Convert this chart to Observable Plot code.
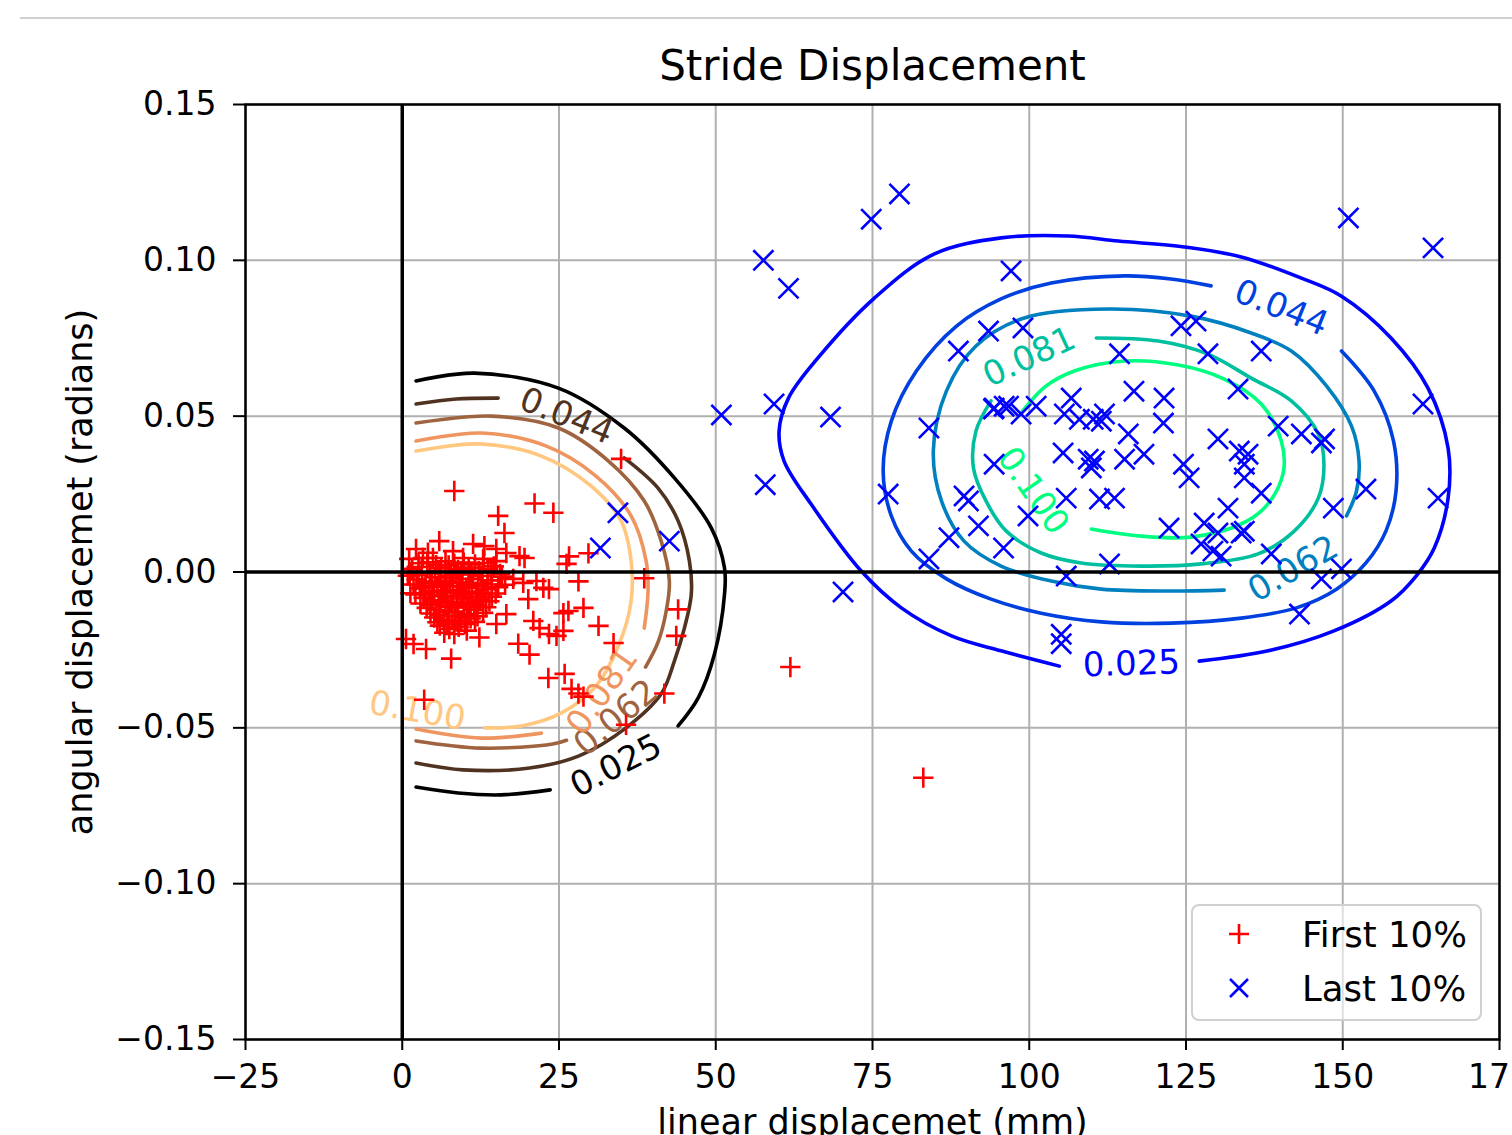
<!DOCTYPE html>
<html><head><meta charset="utf-8">
<script src="https://cdn.jsdelivr.net/npm/d3@7"></script>
<script src="https://cdn.jsdelivr.net/npm/@observablehq/plot@0.6"></script>
<style>
html,body{margin:0;padding:0;background:#fff;overflow:hidden;}
#wrap{position:relative;width:1512px;height:1135px;font-family:"DejaVu Sans",sans-serif;}
#topline{position:absolute;left:20px;right:0;top:17px;border-top:2px solid #d0d0d0;}
#chart{position:absolute;left:0;top:0;}
#legend{position:absolute;left:1191px;top:904px;width:287px;height:113px;border:2px solid #d0d0d0;border-radius:8px;background:rgba(255,255,255,0.6);}
#legend .mk{position:absolute;left:34px;width:24px;height:24px;}
#legend .tx{position:absolute;left:109px;height:40px;line-height:40px;font-size:35.5px;color:#000;white-space:nowrap;}
</style></head>
<body><div id="wrap"><div id="topline"></div><div id="chart"></div><div id="legend"></div></div>
<script>
// ---------- data ----------
const chartTitle = "Stride Displacement";
const xLabel = "linear displacemet (mm)";
const yLabel = "angular displacemet (radians)";
const seriesNames = ["First 10%", "Last 10%"];
const xTicks = [-25, 0, 25, 50, 75, 100, 125, 150, 175];
const yTicks = [-0.15, -0.10, -0.05, 0, 0.05, 0.10, 0.15];
const contourLevels = ["0.025", "0.044", "0.062", "0.081", "0.100"];

const firstPoints = [
  [34.9,0.0363],[8.3,0.026],[21.1,0.022],[24.1,0.019],[15.3,0.018],[16.3,0.0125],[26.6,0.005],[29.7,0.006],[26.2,0.0026],
  [38.6,-0.002],[28.1,-0.003],[23.4,-0.0055],[21.4,-0.0029],[17.7,-0.0022],[19.3,-0.0035],[22.5,-0.0051],[20.1,-0.0087],
  [28.9,-0.0115],[26.5,-0.0125],[25.7,-0.0132],[44.0,-0.012],[43.7,-0.0205],[31.3,-0.0173],[33.7,-0.0228],[16.6,-0.0135],
  [20.9,-0.0157],[15.0,-0.0167],[12.3,-0.021],[21.9,-0.018],[23.4,-0.0199],[24.6,-0.0205],[25.7,-0.0189],[18.5,-0.023],
  [20.3,-0.0265],[7.8,-0.0278],[3.8,-0.0247],[1.8,-0.0231],[0.6,-0.0215],[23.3,-0.034],[25.9,-0.0327],[27.0,-0.0375],
  [28.1,-0.039],[28.9,-0.040],[41.8,-0.039],[35.7,-0.049],[3.5,-0.041],[61.9,-0.0305],[83.1,-0.066],
  [5.9,0.0099],[2.2,0.0074],[8.1,0.0067],[11.3,0.009],[13.1,0.0083],[15.0,0.0074],[16.6,0.0061],[18.7,0.0051],[19.5,0.0045],
  [3.3,0.0045],[4.9,0.0045],[1.1,0.0042],[9.7,0.0045],[12.9,0.0042],[15.0,0.0035],[4.1,0.0062],
  [1.6,0.001],[3.1,0.0016],[4.4,-0.0004],[6.2,0.0012],[7.4,0.0021],[8.9,0.0007],[10.6,0.0014],[12.2,0.0003],[13.7,0.0009],[15.6,-0.0006],
  [2.3,-0.0024],[3.7,-0.0031],[5.2,-0.0017],[6.8,-0.0028],[8.1,-0.0019],[9.6,-0.0033],[11.3,-0.0022],[12.8,-0.0036],[14.3,-0.0027],[16.4,-0.0041],
  [2.8,-0.0052],[4.3,-0.0061],[5.6,-0.0047],[7.2,-0.0058],[8.7,-0.0066],[10.2,-0.0051],[11.8,-0.0063],[13.2,-0.0055],[14.9,-0.0069],
  [3.4,-0.0083],[4.8,-0.0091],[6.3,-0.0078],[7.7,-0.0096],[9.3,-0.0085],[10.7,-0.0099],[12.4,-0.0088],[13.9,-0.0094],
  [3.9,-0.0115],[5.4,-0.0122],[6.9,-0.0109],[8.4,-0.0127],[9.8,-0.0114],[11.5,-0.0121],[12.9,-0.0131],
  [5.1,-0.0146],[6.6,-0.0153],[8.0,-0.0141],[9.4,-0.0158],[10.9,-0.0149],
  [6.0,-0.0172],[7.5,-0.0183],[9.0,-0.0176],[10.3,-0.0188],
  [7.0,-0.0045],[9.9,-0.0072],[5.8,-0.0101],[11.9,-0.0106],[8.6,-0.0006],[0.9,-0.0012],[1.3,-0.0068],
  [2.6,0.0028],[4.0,0.0031],[5.4,0.0022],[6.9,0.0034],[8.3,0.0026],[9.8,0.0030],[11.6,0.0024],[13.0,0.0029],[14.6,0.0018],
  [1.2,-0.0004],[2.6,-0.0009],[5.8,0.0003],[7.8,-0.0011],[9.4,0.0001],[11.0,-0.0008],[12.6,-0.0013],[14.2,-0.0002],[15.9,-0.0015],
  [1.8,-0.0040],[3.2,-0.0044],[4.7,-0.0036],[6.2,-0.0042],[7.6,-0.0034],[9.0,-0.0046],[10.6,-0.0038],[12.1,-0.0046],[13.6,-0.0040],[15.3,-0.0049],
  [2.1,-0.0072],[3.6,-0.0068],[5.1,-0.0075],[6.6,-0.0064],[8.1,-0.0078],[9.6,-0.0067],[11.1,-0.0081],[12.8,-0.0071],[14.3,-0.0079],
  [2.9,-0.0101],[4.4,-0.0106],[6.1,-0.0094],[7.3,-0.0112],[8.8,-0.0103],[10.3,-0.0110],[11.9,-0.0096],[13.4,-0.0113],
  [4.5,-0.0133],[6.0,-0.0138],[7.5,-0.0129],[8.9,-0.0142],[10.4,-0.0134],[12.0,-0.0142],
  [5.6,-0.0161],[7.1,-0.0166],[8.5,-0.0159],[10.0,-0.0167],[11.6,-0.0160],
  [6.7,-0.0195],[8.3,-0.0199]
];

const lastPoints = [
  [79.3,0.1213],[74.8,0.1132],[57.6,0.100],[61.6,0.091],[50.9,0.0504],[59.3,0.0539],[68.3,0.0497],[57.9,0.028],[70.3,-0.0064],
  [84.0,0.0462],[77.5,0.025],[88.7,0.0709],[93.5,0.0773],[94.3,0.0523],[94.4,0.0346],[89.6,0.0244],[90.3,0.0228],[91.9,0.0148],
  [87.2,0.011],[84.0,0.0042],[96.7,0.0532],
  [97.1,0.0966],[99.0,0.0783],[114.4,0.070],[124.2,0.079],[126.6,0.0805],[128.5,0.070],[133.3,0.0587],[116.7,0.058],[121.5,0.0558],
  [121.4,0.0478],[106.7,0.0558],[105.6,0.0507],[108.0,0.049],[110.2,0.049],[112.0,0.0507],[111.5,0.0484],[101.1,0.0532],[98.7,0.0507],
  [96.0,0.0532],[94.4,0.0526],[115.8,0.0443],[118.3,0.0378],[115.2,0.0362],[105.4,0.0382],[109.4,0.0362],[110.4,0.0356],[109.9,0.0334],
  [124.6,0.0346],[125.5,0.0302],[130.1,0.0427],[133.5,0.0388],[134.3,0.0346],[134.3,0.0302],[105.9,0.0237],[111.2,0.0234],[113.6,0.0237],
  [99.8,0.018],[95.9,0.0077],[122.3,0.0141],[131.7,0.0205],[127.9,0.0157],[130.1,0.0125],[133.8,0.0125],[127.4,0.009],[129.3,0.0067],
  [130.6,0.0051],[105.9,-0.0013],[112.8,0.0026],[105.1,-0.023],[105.1,-0.020],
  [150.9,0.1136],[164.4,0.104],[137.0,0.0709],[162.8,0.0539],[139.7,0.0468],[143.4,0.0443],[147.1,0.0427],[146.6,0.0414],[134.9,0.0378],
  [137.0,0.0253],[153.7,0.0266],[165.2,0.0237],[148.5,0.0205],[138.6,0.0058],[146.6,-0.0022],[149.8,0.001],[143.1,-0.0135],[134.3,0.0131],
  [31.6,0.0077],[34.4,0.019],[42.6,0.0099]
];

// contour paths (one list of segments per level)
const first025 = [
  [[2.2,0.0613],[11.5,0.0638],[24.9,0.0590],[35.4,0.0462],[43.4,0.0302],[49.3,0.0141],[51.4,0.0013],[51.4,-0.0071],[49.8,-0.0263],[47.2,-0.0404],[44.0,-0.0494]],
  [[2.2,-0.0690],[8.9,-0.0709],[15.8,-0.0715],[23.6,-0.0699]]
];
const first044 = [
  [[2.2,0.0539],[8.6,0.0555],[15.3,0.0558]],
  [[35.4,0.0366],[40.8,0.0269],[44.0,0.0164],[45.8,0.0035],[46.1,-0.0071],[45.0,-0.0180],[43.4,-0.0286],[41.3,-0.0391],[35.7,-0.0500],[28.2,-0.0590],[20.3,-0.0629],[9.7,-0.0635],[2.2,-0.0613]]
];
const first062 = [
  [[2.2,0.0478],[14.2,0.0500],[24.9,0.0462],[32.9,0.0356],[38.6,0.0228],[41.3,0.0099],[42.6,-0.0029],[42.1,-0.0125],[40.8,-0.0225],[38.8,-0.0305]],
  [[26.2,-0.0540],[24.0,-0.0552],[12.6,-0.0565],[2.2,-0.0542]]
];
const first081 = [
  [[2.2,0.0420],[12.6,0.0446],[23.0,0.0404],[30.9,0.0308],[36.5,0.0180],[38.9,0.0035],[39.2,-0.0061],[38.6,-0.0180]],
  [[22.2,-0.0517],[12.6,-0.0533],[2.2,-0.0504]]
];
const first100 = [
  [[2.2,0.0388],[12.3,0.0411],[22.2,0.0372],[30.1,0.0276],[34.9,0.0164],[36.5,0.0035],[36.5,-0.0093],[34.6,-0.0231],[30.9,-0.0366],[25.4,-0.0452],[19.0,-0.0494],[13.1,-0.0500]]
];

const last025 = [
  [[104.8,-0.0302],[95.5,-0.0253],[87.6,-0.0205],[79.6,-0.0115],[73.2,0.0003],[65.2,0.0218],[60.9,0.0356],[60.1,0.0452],[61.6,0.0558],
   [66.3,0.0687],[75.3,0.0879],[84.8,0.1020],[95.5,0.1072],[106.2,0.1078],[114.2,0.1062],[124.7,0.1043],[133.8,0.1011],[143.4,0.0943],
   [149.8,0.0885],[157.7,0.0751],[163.6,0.0590],[166.8,0.0398],[166.8,0.0237],[164.6,0.0077],[161.7,-0.0013],[157.7,-0.0093],
   [148.6,-0.0189],[138.1,-0.0253],[127.1,-0.0286]]
];
const last044 = [
  [[149.8,0.0709],[155.0,0.0581],[158.1,0.0420],[158.5,0.0260],[156.9,0.0132],[153.7,0.0029],[149.0,-0.0055],[142.6,-0.0115],
   [133.8,-0.0148],[122.6,-0.0164],[111.5,-0.0160],[101.9,-0.0132],[93.9,-0.0087],[86.8,-0.0022],[81.2,0.0067],[78.0,0.0180],
   [76.7,0.0324],[78.0,0.0484],[82.0,0.0645],[88.4,0.0789],[95.5,0.0876],[103.5,0.0927],[115.2,0.0950],[122.6,0.0940],[129.0,0.0918]]
];
const last062 = [
  [[150.6,0.0180],[152.2,0.0260],[152.6,0.0356],[151.4,0.0468],[147.4,0.0597],[141.8,0.0709],[135.4,0.0767],[125.8,0.0821],
   [112.6,0.0844],[99.2,0.0815],[91.5,0.0725],[86.8,0.0581],[84.7,0.0388],[86.0,0.0228],[89.6,0.0099],[95.5,0.0019],
   [103.5,-0.0029],[111.5,-0.0055],[122.2,-0.0061],[131.1,-0.0058]]
];
const last081 = [
  [[110.7,0.0751],[120.6,0.0741],[128.5,0.0699],[135.4,0.0622],[141.8,0.0549],[146.1,0.0443],[147.0,0.0346],[146.1,0.0237],
   [142.3,0.0132],[136.5,0.0058],[127.4,0.0026],[117.9,0.0019],[108.3,0.0029],[101.9,0.0061],[96.3,0.0132],[93.1,0.0228],
   [91.1,0.0334],[91.5,0.0452],[93.9,0.0549]]
];
const last100 = [
  [[98.7,0.0510],[102.7,0.0597],[107.2,0.0645],[115.2,0.0677],[123.8,0.0664],[131.1,0.0619],[137.0,0.0539],[140.2,0.0420],
   [140.5,0.0318],[137.8,0.0212],[133.8,0.0154],[125.8,0.0112],[117.9,0.0115],[109.9,0.0138]]
];

// inline contour label anchors (data units) and their angles
const firstLabelPos = [[34.1,-0.0622],[26.2,0.0500],[34.1,-0.0468],[31.9,-0.0382],[2.4,-0.0446]];
const firstLabelAngle = [-27, 22, -40, -55, 10];
const lastLabelPos = [[116.3,-0.0295],[140.2,0.0847],[142.1,0.0010],[100.0,0.0690],[100.6,0.0260]];
const lastLabelAngle = [-2, 22, -30, -25, 55];

// ---------- styles ----------
const copper = ["#000000", "#503220", "#9f643f", "#ef955f", "#ffc77f"];
const winter = ["#0000ff", "#0040df", "#0080bf", "#00bf9f", "#00ff80"];
const FONT = "DejaVu Sans";

function rowsOf(segments) {
  const rows = [];
  segments.forEach((seg, s) => seg.forEach(([x, y]) => rows.push({x, y, seg: s})));
  return rows;
}
const firstContours = [first025, first044, first062, first081, first100];
const lastContours = [last025, last044, last062, last081, last100];

const contourMarks = [];
firstContours.forEach((c, i) => contourMarks.push(Plot.line(rowsOf(c), {x: "x", y: "y", z: "seg", stroke: copper[i], strokeWidth: 3.6, curve: "catmull-rom"})));
lastContours.forEach((c, i) => contourMarks.push(Plot.line(rowsOf(c), {x: "x", y: "y", z: "seg", stroke: winter[i], strokeWidth: 3.6, curve: "catmull-rom"})));

const labelRows = [];
contourLevels.forEach((lv, i) => {
  labelRows.push({x: firstLabelPos[i][0], y: firstLabelPos[i][1], text: lv, angle: firstLabelAngle[i], color: copper[i]});
  labelRows.push({x: lastLabelPos[i][0], y: lastLabelPos[i][1], text: lv, angle: lastLabelAngle[i], color: winter[i]});
});

const fmtX = d => d < 0 ? "\u2212" + Math.abs(d) : String(d);
const fmtY = d3.format(".2f");

const chart = Plot.plot({
  width: 1512,
  height: 1135,
  marginLeft: 245,
  marginRight: 13,
  marginTop: 104,
  marginBottom: 96,
  style: {fontFamily: FONT, fontSize: "33px", background: "transparent", overflow: "visible", color: "black"},
  x: {domain: [-25, 175]},
  y: {domain: [-0.15, 0.15]},
  marks: [
    Plot.gridX(xTicks, {stroke: "#b0b0b0", strokeOpacity: 1, strokeWidth: 2}),
    Plot.gridY(yTicks, {stroke: "#b0b0b0", strokeOpacity: 1, strokeWidth: 2}),
    ...contourMarks,
    Plot.text(labelRows, {x: "x", y: "y", text: "text", rotate: "angle", fill: d => d.color, fontSize: 34, textAnchor: "middle", lineAnchor: "middle"}),
    Plot.dot(firstPoints, {x: d => d[0], y: d => d[1], symbol: "plus", r: 6.6, stroke: "#ff0000", strokeWidth: 2.6}),
    Plot.dot(lastPoints, {x: d => d[0], y: d => d[1], symbol: "times", r: 9.2, stroke: "#0000ff", strokeWidth: 2.6}),
    Plot.ruleX([0], {stroke: "black", strokeWidth: 3.5}),
    Plot.ruleY([0], {stroke: "black", strokeWidth: 3.5}),
    Plot.frame({stroke: "black", strokeWidth: 2.5}),
    Plot.axisX(xTicks, {tickFormat: fmtX, tickSize: 11, tickPadding: 14, strokeWidth: 2, fontSize: 33, label: null}),
    Plot.axisY(yTicks, {tickFormat: fmtY, tickSize: 12, tickPadding: 17, strokeWidth: 2, fontSize: 33, label: null}),
    Plot.text([chartTitle], {frameAnchor: "top", text: d => d, dy: -38, fontSize: 42, textAnchor: "middle", lineAnchor: "middle"}),
    Plot.text([xLabel], {frameAnchor: "bottom", text: d => d, dy: 83, fontSize: 35, textAnchor: "middle", lineAnchor: "middle"}),
    Plot.text([yLabel], {frameAnchor: "left", text: d => d, dx: -165, rotate: -90, fontSize: 35, textAnchor: "middle", lineAnchor: "middle"})
  ]
});
document.getElementById("chart").appendChild(chart);

// legend
const legend = document.getElementById("legend");
const legendSymbols = [
  `<svg class="mk" viewBox="-12 -12 24 24" style="top:16px"><path d="M-10,0H10M0,-10V10" stroke="#ff0000" stroke-width="2.6" fill="none"/></svg>`,
  `<svg class="mk" viewBox="-12 -12 24 24" style="top:70px"><path d="M-9,-9L9,9M-9,9L9,-9" stroke="#0000ff" stroke-width="2.6" fill="none"/></svg>`
];
seriesNames.forEach((name, i) => {
  legend.insertAdjacentHTML("beforeend", legendSymbols[i]);
  const t = document.createElement("div");
  t.className = "tx";
  t.style.top = (9 + i * 54) + "px";
  t.textContent = name;
  legend.appendChild(t);
});
</script>
</body></html>
